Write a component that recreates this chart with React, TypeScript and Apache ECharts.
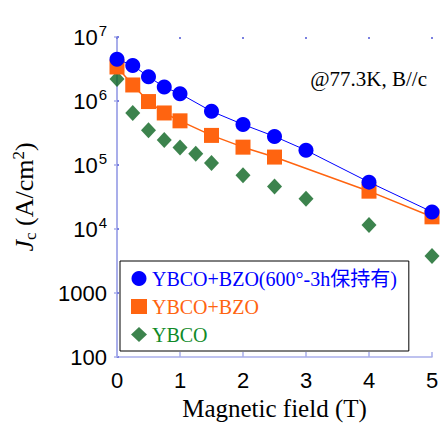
import React, { useEffect, useRef } from "react";
import * as echarts from "echarts";

const fieldsBlue = [0, 0.25, 0.5, 0.75, 1, 1.5, 2, 2.5, 3, 4, 5];
const jcBlue = [4.5e6, 3.6e6, 2.4e6, 1.65e6, 1.3e6, 6.9e5, 4.3e5, 2.8e5, 1.7e5, 5.4e4, 1.85e4];

const fieldsOrange = [0, 0.25, 0.5, 0.75, 1, 1.5, 2, 2.5, 4, 5];
const jcOrange = [3.4e6, 1.78e6, 9.8e5, 6.5e5, 4.9e5, 2.9e5, 1.9e5, 1.33e5, 3.9e4, 1.55e4];

const fieldsGreen = [0, 0.25, 0.5, 0.75, 1, 1.25, 1.5, 2, 2.5, 3, 4, 5];
const jcGreen = [2.2e6, 6.5e5, 3.5e5, 2.45e5, 1.87e5, 1.5e5, 1.07e5, 6.9e4, 4.6e4, 2.96e4, 1.15e4, 3.8e3];

const seriesNames = ["YBCO+BZO(600°-3h保持有)", "YBCO+BZO", "YBCO"];
const xTicks = [0, 1, 2, 3, 4, 5];

const BLUE = "#0000ff";
const ORANGE = "#ff6410";
const GREEN = "#0b6420";
const AXIS = "#a9aeea";
const SERIF = "'Liberation Serif', 'Noto Sans CJK JP', serif";
const SANS = "'Liberation Sans', Arial, sans-serif";

const pairs = (xs: number[], ys: number[]) => xs.map((x, i) => [x, ys[i]]);

export default function App() {
  const ref = useRef<HTMLDivElement>(null);
  useEffect(() => {
    if (!ref.current) return;
    const chart = echarts.init(ref.current, undefined, { renderer: "svg" });
    chart.setOption({
      animation: false,
      backgroundColor: "#fff",
      grid: { left: 117, right: 9, top: 37, bottom: 68, containLabel: false, outerBoundsMode: "none" },
      xAxis: [
        {
          type: "value",
          min: xTicks[0],
          max: xTicks[xTicks.length - 1],
          interval: 1,
          position: "bottom",
          name: "Magnetic field (T)",
          nameLocation: "middle",
          nameGap: 38,
          nameTextStyle: { fontFamily: SERIF, fontSize: 25, color: "#000" },
          axisLine: { show: true, lineStyle: { color: AXIS, width: 1.5 } },
          axisTick: { show: true, inside: true, length: 5, lineStyle: { color: AXIS, width: 1.5 } },
          axisLabel: { fontFamily: SANS, fontSize: 22, color: "#000", margin: 12 },
          splitLine: { show: false },
        },
        {
          type: "value",
          min: xTicks[0],
          max: xTicks[xTicks.length - 1],
          interval: 1,
          position: "top",
          axisLine: { show: false },
          axisTick: { show: true, inside: true, length: 2, lineStyle: { color: "#7a80e0", width: 2 } },
          axisLabel: { show: false },
          splitLine: { show: false },
        },
      ],
      yAxis: [
        {
          type: "log",
          logBase: 10,
          min: 100,
          max: 1e7,
          position: "left",
          name: "{i|J}{sub|c}{n| (A/cm}{sup|2}{n|)}",
          nameLocation: "middle",
          nameGap: 78,
          nameRotate: 90,
          nameTextStyle: {
            color: "#000",
            rich: {
              i: { fontFamily: SERIF, fontSize: 26, fontStyle: "italic", color: "#000" },
              sub: { fontFamily: SERIF, fontSize: 17, color: "#000", padding: [12, 0, 0, 0] },
              n: { fontFamily: SERIF, fontSize: 26, color: "#000" },
              sup: { fontFamily: SERIF, fontSize: 17, color: "#000", padding: [0, 0, 12, 0] },
            },
          },
          axisLine: { show: false },
          axisTick: { show: true, inside: true, length: 2, lineStyle: { color: "#7a80e0", width: 2 } },
          axisLabel: {
            margin: 10,
            formatter: (v: number) => {
              const e = Math.round(Math.log10(v));
              if (e >= 4) return "{b|10}{s|" + e + "}";
              return "{b|" + Math.round(v) + "}";
            },
            rich: {
              b: { fontFamily: SANS, fontSize: 22, color: "#000" },
              s: { fontFamily: SANS, fontSize: 15, color: "#000", padding: [0, 0, 14, 1] },
            },
          },
          splitLine: { show: false },
        },
        {
          type: "log",
          logBase: 10,
          min: 100,
          max: 1e7,
          position: "right",
          axisLine: { show: true, lineStyle: { color: AXIS, width: 2 } },
          axisTick: { show: true, inside: true, length: 3, lineStyle: { color: AXIS, width: 1.5 } },
          axisLabel: { show: false },
          splitLine: { show: false },
        },
      ],
      legend: {
        orient: "vertical",
        left: 120,
        top: 261,
        padding: [7, 12, 6, 11],
        itemGap: 7,
        itemWidth: 16,
        itemHeight: 15,
        backgroundColor: "#fff",
        borderColor: "#000",
        borderWidth: 1,
        borderRadius: 0,
        textStyle: { fontFamily: SERIF, fontSize: 20, lineHeight: 21 },
        data: [
          { name: seriesNames[0], icon: "circle", textStyle: { color: BLUE } },
          { name: seriesNames[1], icon: "rect", textStyle: { color: ORANGE } },
          { name: seriesNames[2], icon: "diamond", textStyle: { color: "#108a28" } },
        ],
      },
      graphic: [
        {
          type: "text",
          right: 14,
          top: 68,
          style: { text: "@77.3K, B//c", fontFamily: SERIF, fontSize: 21, fill: "#000" },
        },
      ],
      series: [
        {
          name: seriesNames[2],
          type: "scatter",
          data: pairs(fieldsGreen, jcGreen),
          symbol: "diamond",
          symbolSize: [15, 16],
          itemStyle: { color: GREEN },
          z: 2,
        },
        {
          name: seriesNames[1],
          type: "line",
          data: pairs(fieldsOrange, jcOrange),
          symbol: "rect",
          symbolSize: 15,
          showAllSymbol: true,
          lineStyle: { color: ORANGE, width: 1.5 },
          itemStyle: { color: ORANGE },
          z: 3,
        },
        {
          name: seriesNames[0],
          type: "line",
          data: pairs(fieldsBlue, jcBlue),
          symbol: "circle",
          symbolSize: 15,
          showAllSymbol: true,
          lineStyle: { color: BLUE, width: 1 },
          itemStyle: { color: BLUE },
          z: 4,
        },
      ],
    });
    return () => chart.dispose();
  }, []);
  return (
    <div
      ref={ref}
      style={{ position: "fixed", left: 0, top: 0, width: 441, height: 425, overflow: "hidden" }}
    />
  );
}
